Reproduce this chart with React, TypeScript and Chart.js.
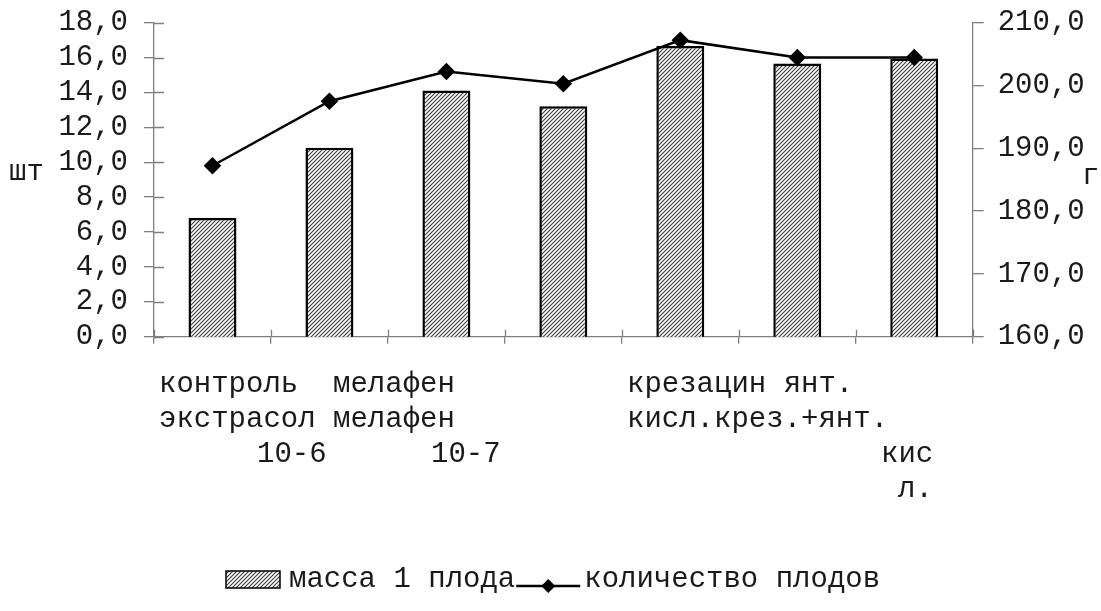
import React, { useEffect, useRef } from "react";
import { Chart, registerables } from "chart.js";

Chart.register(...registerables);

// ---- data ----
const categories = [
  "контроль",
  "экстрасол",
  "мелафен 10-6",
  "мелафен 10-7",
  "крезацин",
  "янт. кисл.",
  "крез.+янт. кисл.",
];
const massValues = [178.9, 190.1, 199.2, 196.7, 206.3, 203.5, 204.3]; // г (right axis)
const countValues = [9.8, 13.5, 15.2, 14.5, 17.0, 16.0, 16.0]; // шт (left axis)
const leftTicks = [0, 2, 4, 6, 8, 10, 12, 14, 16, 18];
const rightTicks = [160, 170, 180, 190, 200, 210];
const seriesNames = ["масса 1 плода", "количество плодов"];
const axisUnits = ["шт", "г"];
// wrapped category captions as they appear under the axis
const captionLine1 = ["контроль  мелафен", "крезацин янт."];
const captionLine2 = ["экстрасол мелафен", "кисл.крез.+янт."];
const captionLine3 = ["10-6", "10-7", "кис"];
const captionLine4 = ["л."];

const FONT = "'Liberation Mono', 'Courier New', monospace";
const FS = 29;
const LFS = 29;
const AXIS = "#7f7f7f";
const TXT = "#1a1a1a";

function makeHatch(): CanvasPattern | string {
  const c = document.createElement("canvas");
  c.width = 4;
  c.height = 4;
  const g = c.getContext("2d");
  if (!g) return "#999";
  g.fillStyle = "#ffffff";
  g.fillRect(0, 0, 4, 4);
  g.strokeStyle = "#3a3a3a";
  g.lineWidth = 1.1;
  g.beginPath();
  g.moveTo(-1, 1);
  g.lineTo(1, -1);
  g.moveTo(0, 4);
  g.lineTo(4, 0);
  g.moveTo(3, 5);
  g.lineTo(5, 3);
  g.stroke();
  const p = g.createPattern(c, "repeat");
  return p || "#999";
}

const fmt = (v: number) => v.toFixed(1).replace(".", ",");

export default function App() {
  const ref = useRef<HTMLCanvasElement | null>(null);

  useEffect(() => {
    if (!ref.current) return;
    const hatch = makeHatch();

    const extras = {
      id: "extras",
      afterDraw(chart: any) {
        const ctx = chart.ctx as CanvasRenderingContext2D;
        const xs = chart.scales.x;
        const ys = chart.scales.y;
        const ca = chart.chartArea;
        ctx.save();
        // inward tick parts
        ctx.strokeStyle = AXIS;
        ctx.lineWidth = 1.3;
        ctx.beginPath();
        const n = categories.length;
        for (let i = 0; i <= n; i++) {
          const x = Math.round(xs.left + (i * xs.width) / n) + 0.5;
          ctx.moveTo(x, ca.bottom - 7);
          ctx.lineTo(x, ca.bottom);
        }
        for (const v of leftTicks) {
          const y = Math.round(ys.getPixelForValue(v)) + 0.5;
          ctx.moveTo(ca.left, y);
          ctx.lineTo(ca.left + 10, y);
        }
        ctx.stroke();

        ctx.fillStyle = TXT;
        ctx.font = `${FS}px ${FONT}`;
        ctx.textBaseline = "middle";
        ctx.textAlign = "left";
        // axis units
        ctx.fillText(axisUnits[0], 9, 172);
        ctx.fillText(axisUnits[1], 1082, 176);
        // category captions
        ctx.fillText(captionLine1[0], 159, 384);
        ctx.fillText(captionLine1[1], 627, 384);
        ctx.fillText(captionLine2[0], 159, 419);
        ctx.fillText(captionLine2[1], 627, 419);
        ctx.fillText(captionLine3[0], 257, 454);
        ctx.fillText(captionLine3[1], 431, 454);
        ctx.fillText(captionLine3[2], 881, 454);
        ctx.fillText(captionLine4[0], 898, 489);

        // legend
        ctx.font = `${LFS}px ${FONT}`;
        const ly = 579;
        let x = 226;
        ctx.fillStyle = hatch as any;
        ctx.fillRect(x, ly - 8, 54, 17);
        ctx.strokeStyle = "#000";
        ctx.lineWidth = 1.5;
        ctx.strokeRect(x, ly - 8, 54, 17);
        x += 54 + 9;
        ctx.fillStyle = TXT;
        ctx.fillText(seriesNames[0], x, ly);
        x += ctx.measureText(seriesNames[0]).width + 1;
        const lineY = ly + 7;
        ctx.strokeStyle = "#000";
        ctx.lineWidth = 2.5;
        ctx.beginPath();
        ctx.moveTo(x, lineY);
        ctx.lineTo(x + 64, lineY);
        ctx.stroke();
        ctx.fillStyle = "#000";
        const dx = x + 32;
        ctx.beginPath();
        ctx.moveTo(dx, lineY - 7);
        ctx.lineTo(dx + 7, lineY);
        ctx.lineTo(dx, lineY + 7);
        ctx.lineTo(dx - 7, lineY);
        ctx.closePath();
        ctx.fill();
        x += 64 + 4;
        ctx.fillStyle = TXT;
        ctx.fillText(seriesNames[1], x, ly);
        ctx.restore();
      },
    };

    const noOverflow = (scale: any) => {
      scale.paddingTop = 0;
      scale.paddingBottom = 0;
    };

    const chart = new Chart(ref.current, {
      type: "bar",
      data: {
        labels: categories,
        datasets: [
          {
            type: "line",
            label: seriesNames[1],
            data: countValues,
            yAxisID: "y",
            borderColor: "#000",
            backgroundColor: "#000",
            borderWidth: 2.5,
            pointStyle: "rectRot",
            pointRadius: 7,
            pointBackgroundColor: "#000",
            pointBorderColor: "#000",
            tension: 0,
            order: 0,
          } as any,
          {
            type: "bar",
            label: seriesNames[0],
            data: massValues,
            yAxisID: "y1",
            backgroundColor: hatch as any,
            borderColor: "#000",
            borderWidth: 2.5,
            borderSkipped: false,
            barPercentage: 0.41,
            categoryPercentage: 1,
            order: 1,
          } as any,
        ],
      },
      options: {
        animation: false,
        responsive: true,
        maintainAspectRatio: false,
        layout: { padding: { top: 22.7, left: 0, right: 0, bottom: 0 } },
        plugins: { legend: { display: false }, tooltip: { enabled: false } },
        scales: {
          x: {
            offset: true,
            grid: {
              offset: true,
              drawOnChartArea: false,
              drawTicks: true,
              tickLength: 7,
              color: AXIS,
              lineWidth: 1.3,
            },
            border: { color: AXIS, width: 1.3 },
            ticks: { display: false },
            afterFit(scale: any) {
              scale.height = 611 - 336.7;
            },
          },
          y: {
            position: "left",
            min: 0,
            max: 18,
            afterBuildTicks(scale: any) {
              scale.ticks = leftTicks.map((v) => ({ value: v }));
            },
            grid: {
              drawOnChartArea: false,
              tickLength: 10,
              color: AXIS,
              lineWidth: 1.3,
            },
            border: { color: AXIS, width: 1.3 },
            ticks: {
              color: TXT,
              font: { family: FONT, size: FS },
              padding: 16,
              autoSkip: false,
              callback: (v: any) => fmt(Number(v)),
            },
            afterFit(scale: any) {
              scale.width = 154;
              noOverflow(scale);
            },
          },
          y1: {
            position: "right",
            min: 160,
            max: 210,
            afterBuildTicks(scale: any) {
              scale.ticks = rightTicks.map((v) => ({ value: v }));
            },
            grid: {
              drawOnChartArea: false,
              tickLength: 11,
              color: AXIS,
              lineWidth: 1.3,
            },
            border: { color: AXIS, width: 1.3 },
            ticks: {
              color: TXT,
              font: { family: FONT, size: FS },
              padding: 14,
              autoSkip: false,
              callback: (v: any) => fmt(Number(v)),
            },
            afterFit(scale: any) {
              scale.width = 1101 - 972.7;
              noOverflow(scale);
            },
          },
        },
      },
      plugins: [extras],
    });
    return () => chart.destroy();
  }, []);

  return (
    <div
      style={{
        position: "fixed",
        left: 0,
        top: 0,
        width: "1101px",
        height: "611px",
        background: "#fff",
      }}
    >
      <canvas ref={ref} />
    </div>
  );
}
